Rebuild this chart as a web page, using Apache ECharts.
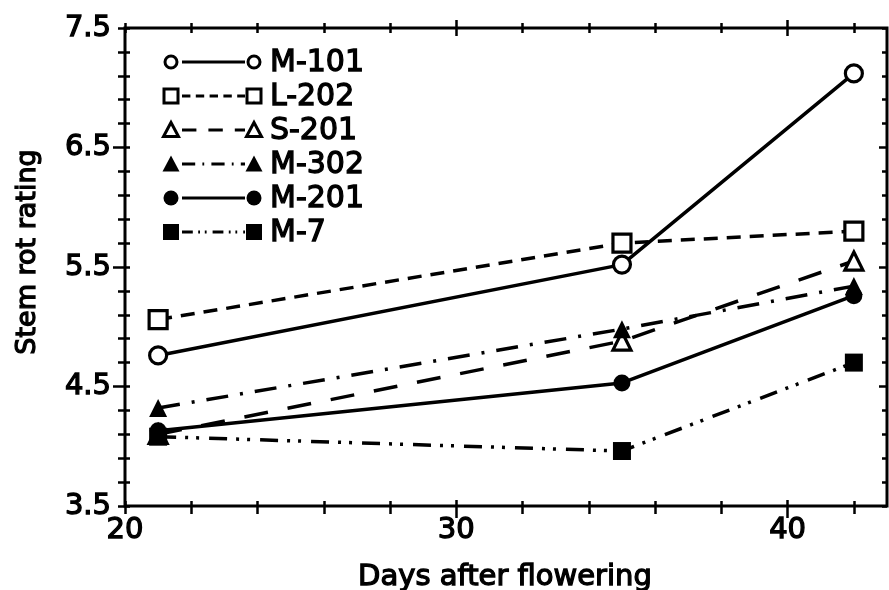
<!DOCTYPE html>
<html>
<head>
<meta charset="utf-8">
<script src="https://cdn.jsdelivr.net/npm/echarts@6/dist/echarts.min.js"></script>
<style>
  html, body { margin: 0; padding: 0; background: #fff; }
  #main { width: 889px; height: 590px; }
</style>
</head>
<body>
<div id="main"></div>
<script>
// days after flowering
const days = [21, 35, 42]
const names = ['M-101', 'L-202', 'S-201', 'M-302', 'M-201', 'M-7']
const m101 = [4.76, 5.52, 7.12]
const l202 = [5.06, 5.70, 5.80]
const s201 = [4.10, 4.88, 5.55]
const m302 = [4.32, 4.98, 5.34]
const m201 = [4.13, 4.53, 5.26]
const m7 = [4.08, 3.96, 4.70]

const xMinorTicks = [20, 22, 24, 26, 28, 30, 32, 34, 36, 38, 40, 42]
const xMajorTicks = [30, 40]
const xLabels = [20, 30, 40]
const yMinorTicks = [3.5, 3.7, 3.9, 4.1, 4.3, 4.5, 4.7, 4.9, 5.1, 5.3, 5.5, 5.7, 5.9, 6.1, 6.3, 6.5, 6.7, 6.9, 7.1, 7.3, 7.5]
const yMajorTicks = [4.5, 5.5, 6.5]
const yLabels = [3.5, 4.5, 5.5, 6.5, 7.5]

const FONT = '"DejaVu Sans", sans-serif'
const INK = 1.3 // fake a heavier weight with a thin outline

// per-series look: symbol, filled or open, dash pattern
const looks = [
  { symbol: 'circle', open: true, dash: 'solid' },
  { symbol: 'rect', open: true, dash: [14, 9] },
  { symbol: 'triangle', open: true, dash: [24, 20] },
  { symbol: 'triangle', open: false, dash: [22, 12, 3, 12] },
  { symbol: 'circle', open: false, dash: 'solid' },
  { symbol: 'rect', open: false, dash: [18, 9, 3, 8, 3, 10] }
]
const values = [m101, l202, s201, m302, m201, m7]

function tickAxis (position, offset, length, ticks, inside) {
  const horiz = position === 'bottom' || position === 'top'
  return {
    type: 'value',
    position: position,
    min: horiz ? 20 : 3.5,
    max: horiz ? 43 : 7.5,
    offset: offset,
    splitLine: { show: false },
    axisLine: { show: false, onZero: false },
    axisTick: {
      show: true,
      inside: !!inside,
      length: length,
      customValues: ticks,
      lineStyle: { color: '#000', width: 2.5 }
    },
    axisLabel: { show: false }
  }
}

const labelStyle = {
  show: true,
  color: '#000',
  fontSize: 29,
  fontFamily: FONT,
  textBorderColor: '#000',
  textBorderWidth: INK
}

const xAxes = [
  tickAxis('bottom', -5, 13, xMinorTicks),
  tickAxis('bottom', -6, 18, xMajorTicks),
  tickAxis('top', -5, 10, xMinorTicks),
  tickAxis('top', -8, 16, xMajorTicks)
]
xAxes[1].axisLabel = Object.assign({}, labelStyle, { customValues: xLabels, margin: 16 })

const yAxes = [
  tickAxis('left', -5, 12, yMinorTicks),
  tickAxis('left', -5, 17, yMajorTicks),
  tickAxis('right', 0, 5, yMinorTicks, true),
  tickAxis('right', 0, 8, yMajorTicks, true)
]
yAxes[1].axisLabel = Object.assign({}, labelStyle, { customValues: yLabels, margin: 19 })

const series = names.map((name, i) => ({
  name: name,
  type: 'line',
  xAxisIndex: 0,
  yAxisIndex: 0,
  data: days.map((d, j) => [d, values[i][j]]),
  symbol: looks[i].symbol,
  symbolSize: looks[i].symbol === 'circle' ? 17 : 18,
  showAllSymbol: true,
  lineStyle: { color: '#000', width: 3.5, type: looks[i].dash },
  itemStyle: looks[i].open
    ? { color: '#fff', borderColor: '#000', borderWidth: 3.2 }
    : { color: '#000', borderColor: '#000', borderWidth: 0 },
  emphasis: { disabled: true },
  animation: false
}))

// hand drawn legend: marker - line - marker  label
function legendMarker (look, cx, cy) {
  const style = look.open
    ? { fill: '#fff', stroke: '#000', lineWidth: 3 }
    : { fill: '#000', stroke: '#000', lineWidth: 0 }
  if (look.symbol === 'circle') {
    return { type: 'circle', shape: { cx: cx, cy: cy, r: look.open ? 6 : 7.5 }, style: style, z: 10 }
  }
  if (look.symbol === 'rect') {
    const s = look.open ? 14 : 16
    return { type: 'rect', shape: { x: cx - s / 2, y: cy - s / 2, width: s, height: s }, style: style, z: 10 }
  }
  const h = look.open ? 13 : 15
  return {
    type: 'polygon',
    shape: { points: [[cx, cy - h / 2 - 1], [cx + h / 2 + 1, cy + h / 2], [cx - h / 2 - 1, cy + h / 2]] },
    style: style,
    z: 10
  }
}

const legend = []
names.forEach((name, i) => {
  const y = 62 + i * 34
  legend.push({
    type: 'line',
    shape: { x1: 182, y1: y, x2: 245, y2: y },
    style: { stroke: '#000', lineWidth: 3, lineDash: looks[i].dash === 'solid' ? null : looks[i].dash.map(v => v * 0.6) },
    z: 9
  })
  legend.push(legendMarker(looks[i], 171, y))
  legend.push(legendMarker(looks[i], 254, y))
  legend.push({
    type: 'text',
    style: { text: name, x: 270, y: y + 1, font: '30px ' + FONT, fill: '#000', stroke: '#000', lineWidth: INK, verticalAlign: 'middle' },
    z: 10
  })
})

legend.push({
  type: 'text',
  style: { text: 'Days after flowering', x: 505, y: 577, font: '29px ' + FONT, fill: '#000', stroke: '#000', lineWidth: INK, align: 'center', verticalAlign: 'middle' }
})
legend.push({
  type: 'text',
  rotation: Math.PI / 2,
  x: 28,
  y: 252,
  style: { text: 'Stem rot rating', x: 0, y: 0, font: '27px ' + FONT, fill: '#000', stroke: '#000', lineWidth: INK, align: 'center', verticalAlign: 'middle' }
})

const chart = echarts.init(document.getElementById('main'))
chart.setOption({
  animation: false,
  backgroundColor: '#fff',
  grid: {
    left: 125,
    right: 2,
    top: 28,
    bottom: 84,
    show: true,
    borderColor: '#000',
    borderWidth: 3,
    backgroundColor: 'transparent'
  },
  xAxis: xAxes,
  yAxis: yAxes,
  series: series,
  graphic: legend
})
</script>
</body>
</html>
